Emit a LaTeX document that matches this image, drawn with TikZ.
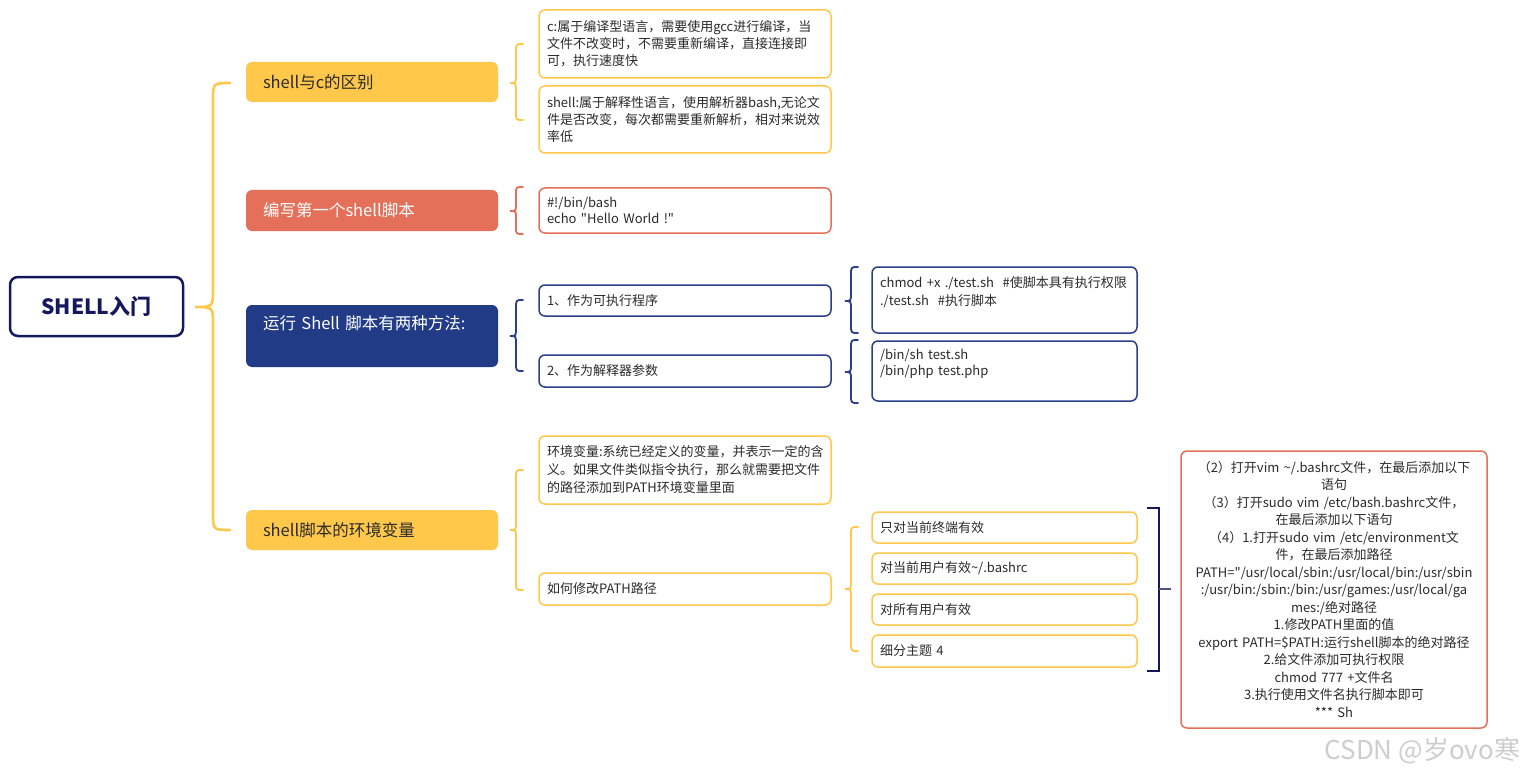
\documentclass[tikz,border=0pt]{standalone}
\usepackage{fontspec}
\setmainfont{Noto Sans CJK SC}[Ligatures=TeXOff]
\definecolor{ylw}{HTML}{FFC84A}
\definecolor{sal}{HTML}{E5705A}
\definecolor{nvy}{HTML}{213B87}
\definecolor{rootc}{HTML}{15185E}
\definecolor{bluebd}{HTML}{2A3E89}
\definecolor{txt}{HTML}{2B2B2B}
\definecolor{wmk}{HTML}{CDCDCD}
\newcommand\mmbrace[8]{%
  \draw[#1] (#4,#5) .. controls (#3,#5) .. (#3,{#5+#8}) -- (#3,{#6-#8})
    .. controls (#3,#6) .. (#2,#6) .. controls (#3,#6) .. (#3,{#6+#8})
    -- (#3,{#7-#8}) .. controls (#3,#7) .. (#4,#7);}
\begin{document}
\begin{tikzpicture}[x=1pt,y=-1pt,
  every node/.style={inner sep=0pt, outer sep=0pt},
  mainbox/.style={rounded corners=6pt, minimum width=252pt, anchor=north west,
    inner xsep=17pt, text width=218pt, align=left, font=\fontsize{16.5}{20}\selectfont},
  subbox/.style={draw, line width=1.5pt, rounded corners=6pt, fill=white, anchor=north west,
    inner xsep=8pt, align=left, text=txt, font=\fontsize{13}{17}\selectfont},
  wbox/.style={subbox, minimum width=292pt, text width=276pt},
  nbox/.style={subbox, minimum width=265pt, text width=249pt, inner xsep=8pt},
  bracel/.style={line width=1.8pt, line cap=round},
]
\useasboundingbox (0,0) rectangle (1525,778);

% root
\node[rounded corners=8pt, draw=rootc, line width=2.5pt, fill=white,
  minimum width=173pt, minimum height=59pt,
  font=\fontsize{21}{24}\selectfont\bfseries, text=rootc] (root) at (96.5,306.5) {SHELL入门};

% main brace
\mmbrace{ylw, line width=2.6pt, line cap=round}{195}{213}{230}{83}{307}{530}{18}

% main topics
\node[mainbox, fill=ylw, text=txt, minimum height=40pt] (diff) at (246,62) {shell与c的区别};
\node[mainbox, fill=sal, text=white, minimum height=41pt] (first) at (246,190) {编写第一个shell脚本};
\node[mainbox, fill=nvy, text=white, minimum height=62pt] (run) at (246,305)
  {\parbox[c][40pt][t]{218pt}{运行 Shell 脚本有两种方法:}};
\node[mainbox, fill=ylw, text=txt, minimum height=40pt] (env) at (246,510) {shell脚本的环境变量};

% sub braces
\mmbrace{bracel, ylw}{510}{516}{523}{44}{83}{120}{8}
\mmbrace{bracel, sal}{510}{516}{523}{187}{211}{234}{7}
\mmbrace{bracel, bluebd}{510}{516}{523}{300}{336}{371}{8}
\mmbrace{bracel, ylw}{510}{516}{523}{470}{530}{590}{8}
\mmbrace{bracel, bluebd}{845}{851}{858}{267}{301}{333}{8}
\mmbrace{bracel, bluebd}{845}{851}{858}{340}{372}{403}{8}
\mmbrace{bracel, ylw}{845}{851}{858}{527}{589}{651}{8}

% shell vs c
\node[wbox, draw=ylw, minimum height=68pt] (cbox) at (539,10)
  {c:属于编译型语言，需要使用gcc进行编译，当\\文件不改变时，不需要重新编译，直接连接即\\可，执行速度快};
\node[wbox, draw=ylw, minimum height=67pt] (shbox) at (539,86)
  {shell:属于解释性语言，使用解析器bash,无论文\\件是否改变，每次都需要重新解析，相对来说效\\率低};

% first script
\node[wbox, draw=sal, minimum height=45pt, font=\fontsize{13}{15.5}\selectfont] (hello) at (539,188)
  {\#!/bin/bash\\echo "Hello World !"};

% run methods
\node[wbox, draw=bluebd, minimum height=31pt] (m1) at (539,285) {1、作为可执行程序};
\node[wbox, draw=bluebd, minimum height=32pt] (m2) at (539,355) {2、作为解释器参数};
\node[nbox, draw=bluebd, minimum height=66pt] (m1d) at (872,267)
  {\parbox[c][46pt][t]{249pt}{\fontsize{13}{18}\selectfont chmod +x ./test.sh\ \ \#使脚本具有执行权限\\./test.sh\ \ \#执行脚本}};
\node[nbox, draw=bluebd, minimum height=60pt] (m2d) at (872,341)
  {\parbox[c][44pt][t]{249pt}{\fontsize{13}{16}\selectfont /bin/sh test.sh\\/bin/php test.php}};

% environment variables
\node[wbox, draw=ylw, minimum height=68pt, font=\fontsize{13}{18}\selectfont] (envd) at (539,436)
  {环境变量:系统已经定义的变量，并表示一定的含\\义。如果文件类似指令执行，那么就需要把文件\\的路径添加到PATH环境变量里面};
\node[wbox, draw=ylw, minimum height=32pt] (how) at (539,573) {如何修改PATH路径};
\node[nbox, draw=ylw, minimum height=31pt] (o1) at (872,512) {只对当前终端有效};
\node[nbox, draw=ylw, minimum height=31pt] (o2) at (872,553) {对当前用户有效\textasciitilde/.bashrc};
\node[nbox, draw=ylw, minimum height=31pt] (o3) at (872,594) {对所有用户有效};
\node[nbox, draw=ylw, minimum height=32pt] (o4) at (872,635) {细分主题 4};

% bracket
\coordinate (bt) at (1147,508);
\coordinate (bb) at (1147,671);
\draw[rootc, line width=2pt] (bt) -- (1159,508) -- (1159,671) -- (bb);
\node[subbox, draw=sal, minimum width=306pt, minimum height=277pt, text width=300pt,
  inner xsep=3pt, align=center, font=\fontsize{13}{17.5}\selectfont] (big) at (1181,451)
  {（2）打开vim \textasciitilde/.bashrc文件，在最后添加以下\\语句\\
   （3）打开sudo vim /etc/bash.bashrc文件，\\在最后添加以下语句\\
   （4）1.打开sudo vim /etc/environment文\\件，在最后添加路径\\
   PATH="/usr/local/sbin:/usr/local/bin:/usr/sbin\\
   :/usr/bin:/sbin:/bin:/usr/games:/usr/local/ga\\
   mes:/绝对路径\\1.修改PATH里面的值\\
   export PATH=\$PATH:运行shell脚本的绝对路径\\
   2.给文件添加可执行权限\\chmod 777 +文件名\\3.执行使用文件名执行脚本即可\\\relax *** Sh};
\coordinate (tk) at (1159,589);
\draw[rootc!75, line width=1.3pt] (tk) -- (1171,589);

% watermark
\node[anchor=east, text=wmk, font=\fontsize{26}{28}\selectfont] (wm) at (1520,751) {CSDN @岁ovo寒};
\end{tikzpicture}
\end{document}
